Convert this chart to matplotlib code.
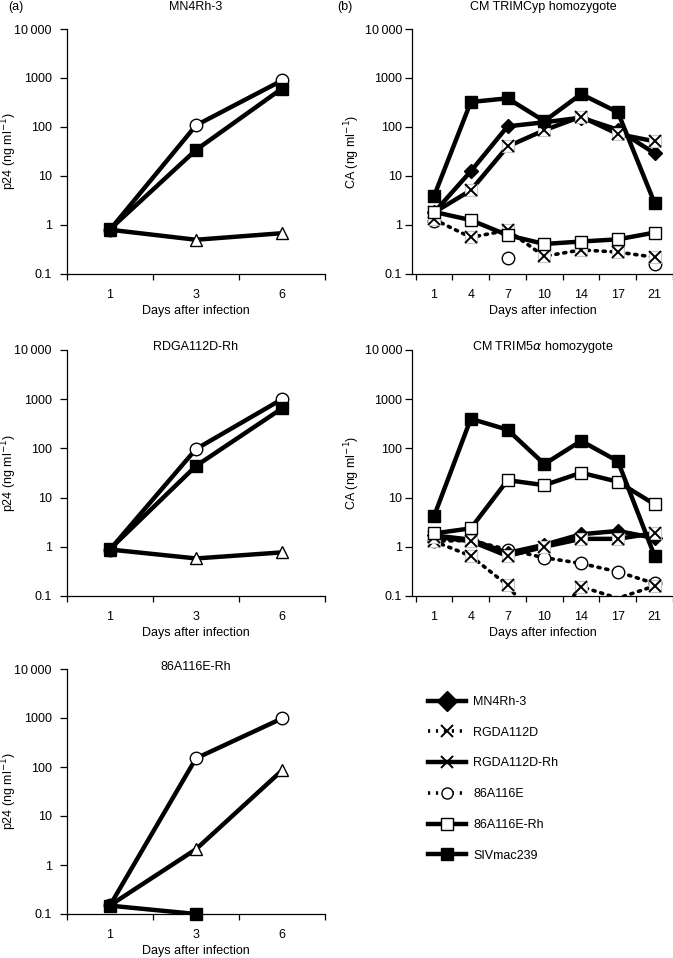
import numpy as np
import matplotlib
matplotlib.use('Agg')
import matplotlib.pyplot as plt
from matplotlib.lines import Line2D

plt.rcParams['font.family'] = ['Liberation Sans', 'DejaVu Sans']
plt.rcParams['mathtext.fontset'] = 'dejavusans'

nan = np.nan

# x categories
a_days = ['1', '3', '6']
b_days = ['1', '4', '7', '10', '14', '17', '21']

# (a) p24 panels: circle / filled square / triangle series
a_titles = ['MN4Rh-3', 'RDGA112D-Rh', '86A116E-Rh']
a_circle = [[0.8, 108, 890], [0.88, 97, 1000], [0.15, 150, 980]]
a_square = [[0.82, 34, 610], [0.9, 44, 650], [0.148, 0.1, nan]]
a_triangle = [[0.8, 0.5, 0.68], [0.88, 0.58, 0.77], [0.15, 2.1, 85]]

# (b) CA panels
b_titles = ['CM TRIMCyp homozygote', 'CM TRIM5$\\alpha$ homozygote']
b_mn4 = [[1.8, 12.5, 103, 125, 155, 88, 29],
         [1.7, 1.4, 0.75, 1.1, 1.8, 2.1, 1.5]]
b_rgda_rh = [[1.8, 5.1, 40, 86, 163, 72, 51],
             [1.6, 1.3, 0.65, 1.0, 1.45, 1.45, 1.9]]
b_rgda = [[1.3, 0.56, 0.78, 0.23, 0.31, 0.28, 0.22],
          [1.3, 0.65, 0.165, 0.02, 0.155, 0.09, 0.16]]
b_86e = [[1.2, nan, 0.21, nan, nan, nan, 0.16],
         [1.3, 1.35, 0.88, 0.6, 0.46, 0.31, 0.18]]
b_86e_rh = [[1.85, 1.26, 0.62, 0.41, 0.46, 0.51, 0.70],
            [1.87, 2.37, 22.6, 17.9, 32, 21, 7.3]]
b_siv = [[3.9, 324, 385, 132, 470, 200, 2.8],
         [4.2, 400, 240, 48, 142, 55, 0.65]]

legend_labels = ['MN4Rh-3', 'RGDA112D', 'RGDA112D-Rh', '86A116E', '86A116E-Rh', 'SIVmac239']

W, H = 673, 958
LW = 3.2
DOT = (0, (0.6, 1.6))
YMIN, YMAX = 0.1, 10000


def box(l, t, r, b):
    return [l / W, 1 - b / H, (r - l) / W, (b - t) / H]


def style_axes(ax, labels, ylabel, xlim, ypad, ylab_x):
    ax.set_yscale('log')
    ax.set_ylim(YMIN, YMAX)
    ax.set_xlim(*xlim)
    ax.spines['top'].set_visible(False)
    ax.spines['right'].set_visible(False)
    ax.spines['left'].set_linewidth(0.9)
    ax.spines['bottom'].set_linewidth(0.9)
    ax.set_yticks([0.1, 1, 10, 100, 1000, 10000])
    ax.set_yticklabels(['0.1', '1', '10', '100', '1000', '10\u2009000'])
    ax.yaxis.set_minor_locator(matplotlib.ticker.NullLocator())
    n = len(labels)
    ax.set_xticks(range(n))
    ax.set_xticklabels(labels)
    ax.set_xticks(np.arange(n + 1) - 0.5, minor=True)
    ax.tick_params(axis='x', which='major', length=0, labelsize=9, pad=11)
    ax.tick_params(axis='x', which='minor', length=4, width=0.9, direction='out')
    ax.tick_params(axis='y', which='major', length=5, width=0.9, labelsize=9, pad=ypad)
    ax.set_ylabel(ylabel, fontsize=9)
    ax.yaxis.set_label_coords(ylab_x, 0.5)
    ax.set_xlabel('Days after infection', fontsize=9, labelpad=3)


def series(ax, y, ls, marker, mfc, ms, z):
    x = np.arange(len(y))
    y = np.array(y, dtype=float)
    ax.plot(x, y, color='black', lw=LW if ls == '-' else 2.6, ls=ls, zorder=z,
            solid_capstyle='round', dash_capstyle='round')
    m = np.where(y >= YMIN, y, nan)
    if marker == 'x':
        ax.plot(x, m, ls='none', marker='s', ms=9, mfc='white', mec='#c8c8c8',
                mew=0.8, zorder=z + 0.1, clip_on=False)
        ax.plot(x, m, ls='none', marker='x', ms=8, mec='black', mew=1.4,
                zorder=z + 0.2, clip_on=False)
    else:
        ax.plot(x, m, ls='none', marker=marker, ms=ms, mfc=mfc, mec='black',
                mew=1.0, zorder=z + 0.1, clip_on=False)


fig = plt.figure(figsize=(W / 100, H / 100), dpi=100)

rows = [(29, 274), (350, 596), (669, 914)]
title_y = [7, 347, 667]

# left column (a)
for i in range(3):
    t, b = rows[i]
    ax = fig.add_axes(box(67, t, 325, b))
    style_axes(ax, a_days, 'p24 (ng ml$^{-1}$)', (-0.5, 2.5), 6, (19 - 67) / 258)
    series(ax, a_triangle[i], '-', '^', 'white', 8, 2)
    series(ax, a_circle[i], '-', 'o', 'white', 9, 3)
    series(ax, a_square[i], '-', 's', 'black', 9, 4)
    fig.text(196 / W, 1 - title_y[i] / H, a_titles[i], ha='center', va='center', fontsize=9)

# right column (b)
for i in range(2):
    t, b = rows[i]
    ax = fig.add_axes(box(412, t, 673, b))
    style_axes(ax, b_days, 'CA (ng ml$^{-1}$)', (-0.6, 6.4), 2, (362 - 412) / 261)
    series(ax, b_86e[i], DOT, 'o', 'white', 9, 2)
    series(ax, b_rgda[i], DOT, 'x', 'white', 8, 3)
    series(ax, b_mn4[i], '-', 'D', 'black', 7, 4)
    series(ax, b_rgda_rh[i], '-', 'x', 'white', 8, 5)
    series(ax, b_86e_rh[i], '-', 's', 'white', 9, 6)
    series(ax, b_siv[i], '-', 's', 'black', 9, 7)
    fig.text(543 / W, 1 - title_y[i] / H, b_titles[i], ha='center', va='center', fontsize=9)

fig.text(8 / W, 1 - 7 / H, '(a)', ha='left', va='center', fontsize=9)
fig.text(345 / W, 1 - 7 / H, '(b)', ha='center', va='center', fontsize=9)

# legend
leg_styles = [('-', 'D', 'black'), (DOT, 'x', 'white'), ('-', 'x', 'white'),
              (DOT, 'o', 'white'), ('-', 's', 'white'), ('-', 's', 'black')]
handles = []
for (ls, mk, fc) in leg_styles:
    handles.append(Line2D([], [], color='black', ls=ls, lw=LW if ls == '-' else 2.6,
                          marker=mk, ms=8 if mk != 'D' else 10, mfc=fc, mec='black',
                          mew=1.4 if mk == 'x' else 1.0))
fig.legend(handles, legend_labels, loc='upper left', bbox_to_anchor=(428 / W, 1 - 696 / H),
           frameon=False, fontsize=9, handlelength=3.0, handletextpad=0.6,
           labelspacing=1.5, borderaxespad=0, borderpad=0)

fig.savefig('out.png', dpi=100)
